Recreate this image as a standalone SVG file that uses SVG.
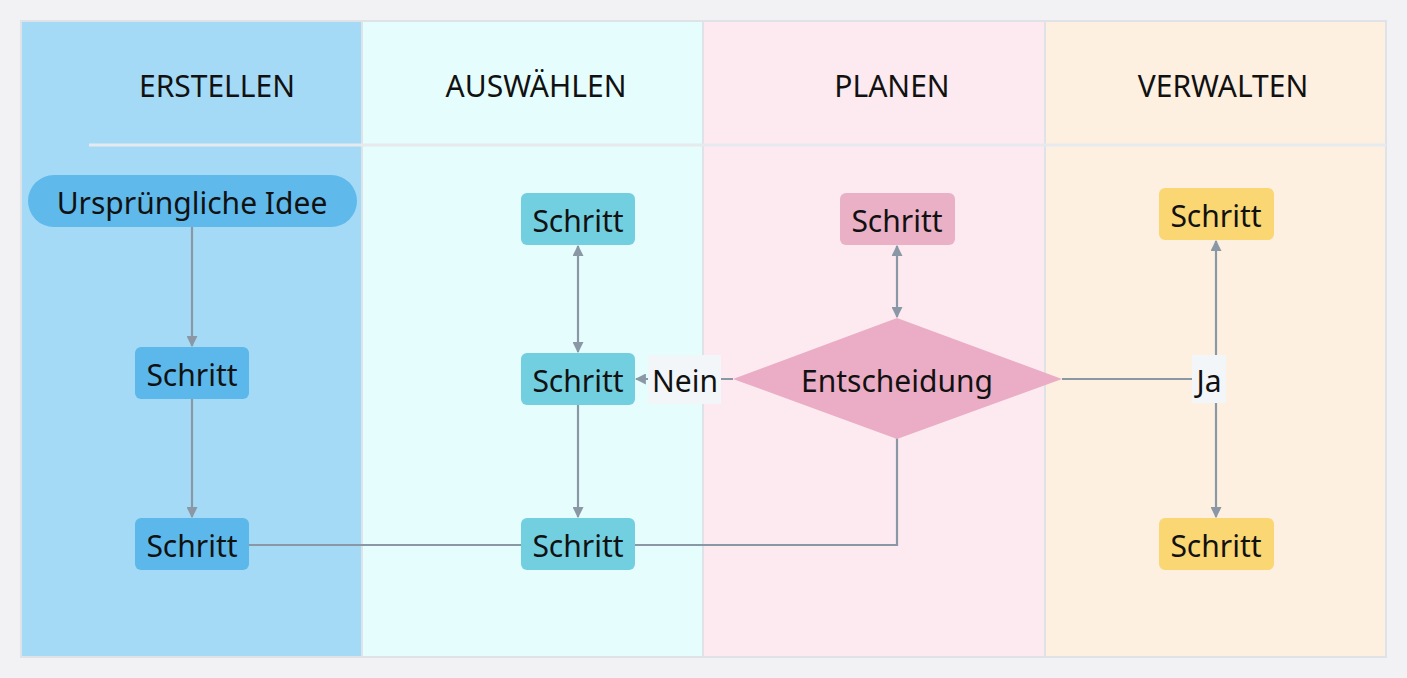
<svg xmlns="http://www.w3.org/2000/svg" width="1407" height="678" viewBox="0 0 1407 678">
<style>
.hdr{font-family:"Noto Sans","Open Sans","Liberation Sans",sans-serif;font-size:30px;fill:#111;text-anchor:middle}
.t{font-family:"Noto Sans","Open Sans","Liberation Sans",sans-serif;font-size:30px;fill:#111;text-anchor:middle;dominant-baseline:central}
.lane{stroke:#dfe2e6;stroke-width:2}
.c{fill:none;stroke:#8a97a4;stroke-width:2.2}
.lbl{fill:#f3f6f9}
</style>
<defs>
<marker id="ah" viewBox="0 0 10 10" refX="9" refY="5" markerWidth="5" markerHeight="5" orient="auto-start-reverse" markerUnits="strokeWidth">
<path d="M0,0 L10,5 L0,10 z" fill="#8a97a4"/>
</marker>
</defs>
<rect width="1407" height="678" fill="#f2f2f4"/>
<g id="lanes">
<rect class="lane" x="21" y="21" width="341" height="636" fill="#a5daf7"/>
<rect class="lane" x="362" y="21" width="341" height="636" fill="#e6fdfd"/>
<rect class="lane" x="703" y="21" width="342" height="636" fill="#fdeaf0"/>
<rect class="lane" x="1045" y="21" width="341" height="636" fill="#fdf0e1"/>
<line x1="89" y1="145" x2="1386" y2="145" stroke="#e6eaee" stroke-width="3"/>
<text class="hdr" x="217" y="97">ERSTELLEN</text>
<text class="hdr" x="536" y="97">AUSWÄHLEN</text>
<text class="hdr" x="892" y="97">PLANEN</text>
<text class="hdr" x="1223" y="97">VERWALTEN</text>
</g>
<g id="connectors">
<line class="c" x1="192" y1="227" x2="192" y2="346" marker-end="url(#ah)"/>
<line class="c" x1="192" y1="399" x2="192" y2="517" marker-end="url(#ah)"/>
<line class="c" x1="249" y1="545" x2="521" y2="545"/>
<polyline class="c" points="635,545 897,545 897,438"/>
<line class="c" x1="578" y1="246" x2="578" y2="352" marker-start="url(#ah)" marker-end="url(#ah)"/>
<line class="c" x1="578" y1="405" x2="578" y2="517" marker-end="url(#ah)"/>
<line class="c" x1="733" y1="379" x2="636" y2="379" marker-end="url(#ah)"/>
<line class="c" x1="897" y1="246" x2="897" y2="317" marker-start="url(#ah)" marker-end="url(#ah)"/>
<line class="c" x1="1062" y1="379" x2="1216" y2="379"/>
<line class="c" x1="1216" y1="379" x2="1216" y2="241" marker-end="url(#ah)"/>
<line class="c" x1="1216" y1="379" x2="1216" y2="517" marker-end="url(#ah)"/>
<rect class="lbl" x="648" y="355" width="73" height="49"/>
<text class="t" x="685" y="380">Nein</text>
<rect class="lbl" x="1192" y="355" width="34" height="48"/>
<text class="t" x="1209" y="380">Ja</text>
</g>
<g id="idea">
<rect x="28" y="175" width="329" height="52" rx="26" fill="#5fb9ea"/>
<text class="t" x="192" y="202">Ursprüngliche Idee</text>
</g>
<g id="e1">
<rect x="135" y="347" width="114" height="52" rx="6" fill="#5cb8ea"/>
<text class="t" x="192" y="374">Schritt</text>
</g>
<g id="e2">
<rect x="135" y="518" width="114" height="52" rx="6" fill="#5cb8ea"/>
<text class="t" x="192" y="545">Schritt</text>
</g>
<g id="a1">
<rect x="521" y="193" width="114" height="52" rx="6" fill="#72cfe0"/>
<text class="t" x="578" y="220">Schritt</text>
</g>
<g id="a2">
<rect x="521" y="353" width="114" height="52" rx="6" fill="#72cfe0"/>
<text class="t" x="578" y="380">Schritt</text>
</g>
<g id="a3">
<rect x="521" y="518" width="114" height="52" rx="6" fill="#72cfe0"/>
<text class="t" x="578" y="545">Schritt</text>
</g>
<g id="p1">
<rect x="840" y="193" width="115" height="52" rx="6" fill="#eab0c6"/>
<text class="t" x="897" y="220">Schritt</text>
</g>
<g id="decision">
<polygon points="733,379 897,318 1062,379 897,439" fill="#ebadc5"/>
<text class="t" x="897" y="380">Entscheidung</text>
</g>
<g id="v1">
<rect x="1159" y="188" width="115" height="52" rx="6" fill="#fbd774"/>
<text class="t" x="1216" y="215">Schritt</text>
</g>
<g id="v2">
<rect x="1159" y="518" width="115" height="52" rx="6" fill="#fbd774"/>
<text class="t" x="1216" y="545">Schritt</text>
</g>
</svg>
